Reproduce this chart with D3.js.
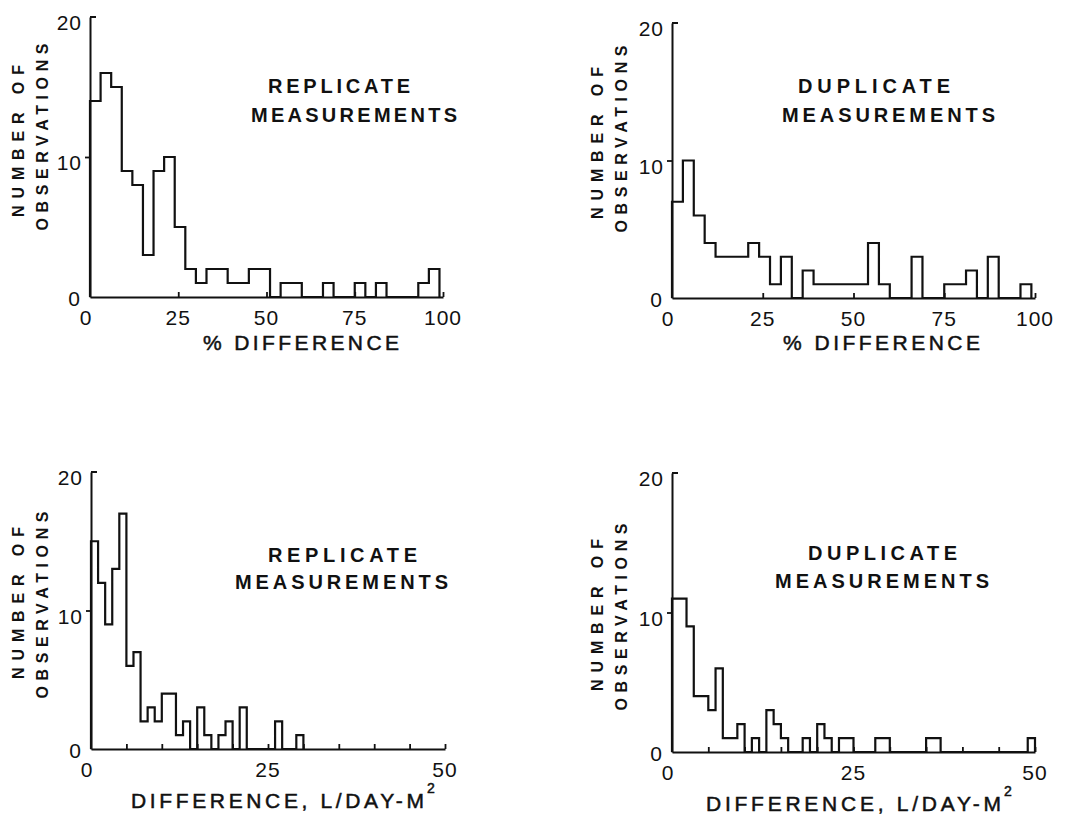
<!DOCTYPE html>
<html><head><meta charset="utf-8">
<script src="https://cdn.jsdelivr.net/npm/d3@7"></script>
<style>
html,body{margin:0;padding:0;background:#fff;}
svg text{fill:#111;}
</style></head>
<body>
<svg id="chart" width="1065" height="819"></svg>
<script>
// ---------- data ----------
const pctBinWidth = 3;            // % difference bins
const fluxBinWidth = 1;           // L/day-m2 bins
const pctTicks = [0, 25, 50, 75, 100];
const fluxTicks = [0, 25, 50];
const fluxMinorTicks = [5, 10, 15, 20, 25, 30, 35, 40, 45, 50];
const countTicks = [0, 10, 20];

const replicatePct = [14,16,15,9,8,3,9,10,5,2,1,2,2,1,1,2,2,0,1,1,0,0,1,0,0,1,0,1,0,0,0,1,2];
const duplicatePct = [7,10,6,4,3,3,3,4,3,1,3,0,2,1,1,1,1,1,4,1,0,0,3,0,0,1,1,2,0,3,0,0,1];
const replicateFlux = [15,12,9,13,17,6,7,2,3,2,4,4,1,2,0,3,1,0,1,2,0,3,0,0,0,0,2,0,0,1];
const duplicateFlux = [11,11,9,4,4,3,6,1,1,2,0,1,0,3,2,1,0,0,1,0,2,1,0,1,1,0,0,0,1,1,0,0,0,0,0,1,1,0,0,0,0,0,0,0,0,0,0,0,0,1];

const titleReplicate = ["REPLICATE", "MEASUREMENTS"];
const titleDuplicate = ["DUPLICATE", "MEASUREMENTS"];
const yTitle = ["NUMBER OF", "OBSERVATIONS"];
const xTitlePct = "% DIFFERENCE";
const xTitleFlux = "DIFFERENCE, L/DAY-M";

// ---------- drawing ----------
const svg = d3.select("#chart");
const INK = "#111";
const numFont = "'Liberation Sans Narrow','Liberation Sans',sans-serif";
const boldFont = "'Liberation Sans','DejaVu Sans',sans-serif";

function panel(cfg) {
  const g = svg.append("g");
  const x = d3.scaleLinear().domain(cfg.xDomain).range([cfg.x0, cfg.x1]);
  const y = d3.scaleLinear().domain([0, 20]).range([cfg.yBase, cfg.yTop]);

  // histogram outline
  const pts = [[0, 0]];
  cfg.counts.forEach((c, i) => pts.push([i * cfg.binWidth, c]));
  pts.push([cfg.counts.length * cfg.binWidth, 0]);
  const line = d3.line().x(d => x(d[0])).y(d => y(d[1])).curve(d3.curveStepAfter);
  g.append("path").attr("d", line(pts))
    .attr("fill", "none").attr("stroke", INK).attr("stroke-width", 2.2)
    .attr("stroke-linejoin", "miter");

  // x axis (ticks pointing up)
  const xAxis = d3.axisBottom(x).tickValues(cfg.xTickMarks).tickSizeInner(-5).tickSizeOuter(0).tickFormat("");
  const xa = g.append("g").attr("transform", `translate(0,${cfg.yBase})`).call(xAxis);
  xa.select(".domain").attr("stroke", INK).attr("stroke-width", 2);
  xa.selectAll(".tick line").attr("stroke", INK).attr("stroke-width", 1.8);

  // y axis
  const yAxis = d3.axisLeft(y).tickValues([10]).tickSizeInner(5).tickSizeOuter(0).tickFormat("");
  const ya = g.append("g").attr("transform", `translate(${cfg.x0},0)`).call(yAxis);
  ya.select(".domain").attr("stroke", INK).attr("stroke-width", 2);
  ya.selectAll(".tick line").attr("stroke", INK).attr("stroke-width", 1.8);
  g.append("line").attr("x1", x(cfg.xDomain[0])).attr("x2", x(cfg.xDomain[0]) + 6)
    .attr("y1", y(20)).attr("y2", y(20)).attr("stroke", INK).attr("stroke-width", 2);

  // y tick labels
  countTicks.forEach(v => {
    g.append("text").attr("x", cfg.x0 - (v === 0 ? 9 : 8)).attr("y", y(v) + (v === 0 ? 9 : 13))
      .attr("text-anchor", "end").attr("font-family", numFont).attr("font-size", 21)
      .attr("letter-spacing", 1).text(v);
  });
  // x tick labels
  cfg.xLabels.forEach(v => {
    g.append("text").attr("x", x(v) + (v === 0 ? -4 : 0)).attr("y", cfg.yBase + 28)
      .attr("text-anchor", "middle").attr("font-family", numFont).attr("font-size", 21)
      .attr("letter-spacing", 1).text(v);
  });

  // x title
  g.append("text").attr("x", cfg.xt.x).attr("y", cfg.xt.y)
    .attr("font-family", numFont).attr("font-size", 21)
    .attr("stroke", INK).attr("stroke-width", 0.5)
    .attr("textLength", cfg.xt.len).attr("lengthAdjust", "spacing").text(cfg.xTitle);
  if (cfg.sup) {
    g.append("text").attr("x", cfg.sup.x).attr("y", cfg.sup.y)
      .attr("font-family", numFont).attr("font-size", 14)
      .attr("stroke", INK).attr("stroke-width", 0.5).text("2");
  }

  // panel title (two lines)
  cfg.title.forEach((t, i) => {
    g.append("text").attr("x", cfg.tt[i].x).attr("y", cfg.tt[i].y)
      .attr("font-family", boldFont).attr("font-weight", "bold").attr("font-size", 20)
      .attr("textLength", cfg.tt[i].len).attr("lengthAdjust", "spacing").text(t);
  });

  // y title (rotated)
  yTitle.forEach((t, i) => {
    const cx = cfg.yt[i].x, cy = cfg.yt[i].y;
    g.append("text").attr("transform", `translate(${cx},${cy}) rotate(-90)`)
      .attr("text-anchor", "middle")
      .attr("font-family", boldFont).attr("font-weight", "bold").attr("font-size", 16)
      .attr("textLength", cfg.yt[i].len).attr("lengthAdjust", "spacing").text(t);
  });
}

panel({
  counts: replicatePct, binWidth: pctBinWidth, xDomain: [0, 100],
  x0: 90, x1: 443, yTop: 17, yBase: 297,
  xTickMarks: pctTicks.slice(1), xLabels: pctTicks,
  xTitle: xTitlePct, xt: {x: 203, y: 350, len: 196},
  title: titleReplicate,
  tt: [{x: 268, y: 93, len: 142}, {x: 251, y: 122, len: 206}],
  yt: [{x: 24, y: 141, len: 152}, {x: 48, y: 137, len: 187}]
});
panel({
  counts: duplicatePct, binWidth: pctBinWidth, xDomain: [0, 100],
  x0: 672, x1: 1035, yTop: 23, yBase: 298,
  xTickMarks: pctTicks.slice(1), xLabels: pctTicks,
  xTitle: xTitlePct, xt: {x: 783, y: 350, len: 197},
  title: titleDuplicate,
  tt: [{x: 798, y: 93, len: 152}, {x: 782, y: 122, len: 213}],
  yt: [{x: 603, y: 143, len: 152}, {x: 627, y: 139, len: 187}]
});
panel({
  counts: replicateFlux, binWidth: fluxBinWidth, xDomain: [0, 50],
  x0: 91, x1: 445, yTop: 472, yBase: 749,
  xTickMarks: fluxMinorTicks, xLabels: fluxTicks,
  xTitle: xTitleFlux, xt: {x: 131, y: 808, len: 293},
  sup: {x: 427, y: 793},
  title: titleReplicate,
  tt: [{x: 268, y: 562, len: 149}, {x: 235, y: 589, len: 213}],
  yt: [{x: 24, y: 603, len: 152}, {x: 48, y: 605, len: 187}]
});
panel({
  counts: duplicateFlux, binWidth: fluxBinWidth, xDomain: [0, 50],
  x0: 672, x1: 1035, yTop: 473, yBase: 752,
  xTickMarks: fluxMinorTicks, xLabels: fluxTicks,
  xTitle: xTitleFlux, xt: {x: 706, y: 811, len: 295},
  sup: {x: 1004, y: 796},
  title: titleDuplicate,
  tt: [{x: 808, y: 560, len: 149}, {x: 775, y: 588, len: 214}],
  yt: [{x: 603, y: 615, len: 152}, {x: 627, y: 617, len: 187}]
});
</script>
</body></html>
